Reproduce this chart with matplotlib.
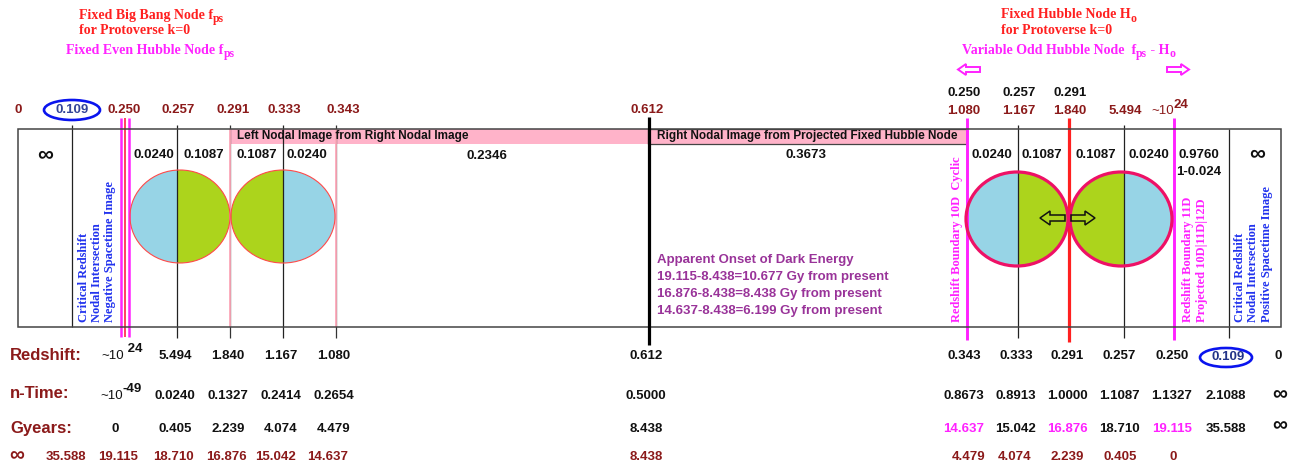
"""
Nodal redshift diagram (protoverse k=0) redrawn with matplotlib.
The axes work in pixel units of the 1293x469 output, y pointing down.
"""

import matplotlib
matplotlib.use("Agg")
import matplotlib.pyplot as plt
from matplotlib.patches import Rectangle, Ellipse, FancyArrow

SANS = ["Liberation Sans", "DejaVu Sans"]
SERIF = ["Liberation Serif", "DejaVu Serif"]
DARKRED, MAGENTA, RED, BLUE, PURPLE = "#8b1a1a", "#ff22ff", "#ff2020", "#2233ee", "#993399"
SKY, LIME, PINK = "#97d4e6", "#acd41c", "#ffb3c9"

# ---- data (labels) ----
TOP_LEFT = ["0", "0.109", "0.250", "0.257", "0.291", "0.333", "0.343", "0.612"]
TOP_RIGHT_Z = ["0.250", "0.257", "0.291"]
TOP_RIGHT = ["1.080", "1.167", "1.840", "5.494"]
CELL_LEFT = ["0.0240", "0.1087", "0.1087", "0.0240"]
CELL_RIGHT = ["0.0240", "0.1087", "0.1087", "0.0240"]
SPAN_LEFT, SPAN_RIGHT = "0.2346", "0.3673"
REDSHIFT = ["5.494", "1.840", "1.167", "1.080", "0.612",
            "0.343", "0.333", "0.291", "0.257", "0.250", "0.109", "0"]
NTIME = ["0.0240", "0.1327", "0.2414", "0.2654", "0.5000",
         "0.8673", "0.8913", "1.0000", "1.1087", "1.1327", "2.1088", "\u221e"]
GYEARS = ["0", "0.405", "2.239", "4.074", "4.479", "8.438",
          "14.637", "15.042", "16.876", "18.710", "19.115", "35.588", "\u221e"]
GYEARS_BACK = ["\u221e", "35.588", "19.115", "18.710", "16.876", "15.042", "14.637",
               "8.438", "4.479", "4.074", "2.239", "0.405", "0"]
DARK_ENERGY = ["Apparent Onset of Dark Energy",
               "19.115-8.438=10.677 Gy from present",
               "16.876-8.438=8.438 Gy from present",
               "14.637-8.438=6.199 Gy from present"]

# ---- layout (pixel positions) ----
COL_X = [120, 177, 230, 283, 336, 648, 966, 1018, 1069, 1121, 1174, 1228, 1280]
BOX = (18, 129, 1281, 327)

fig = plt.figure(figsize=(12.93, 4.69), dpi=100)
ax = fig.add_axes([0, 0, 1, 1])
ax.set_xlim(0, 1293)
ax.set_ylim(469, 0)
ax.axis("off")
R = fig.canvas.get_renderer()


def rich(x, y, parts, ha="left", **kw):
    """Lay out (text, dy, size, weight) pieces side by side; used for sub/superscripts."""
    arts = []
    for s, dy, size, weight in parts:
        t = ax.text(0, y + dy, s, ha="left", va="center", fontsize=size,
                    fontweight=weight, **kw)
        arts.append((t, t.get_window_extent(R).width))
    total = sum(w for _, w in arts)
    x0 = x - total / 2 if ha == "center" else x
    for t, w in arts:
        t.set_x(x0)
        x0 += w


def num(x, y, s, color="#111111", size=9.5, **kw):
    ax.text(x, y, s, ha="center", va="center", fontsize=size, fontweight="bold",
            color=color, family=SANS, **kw)


def vline(x, y0, y1, color, lw, z=3):
    ax.plot([x, x], [y0, y1], color=color, lw=lw, zorder=z, solid_capstyle="butt")


def half_disc(cx, cy, w, h, split, left, right, edge, elw):
    for color, x0, x1 in [(left, cx - w, split), (right, split, cx + w)]:
        e = Ellipse((cx, cy), w, h, facecolor=color, edgecolor="none", zorder=2)
        ax.add_patch(e)
        clip = Rectangle((x0, cy - h), x1 - x0, 2 * h, transform=ax.transData)
        e.set_clip_path(clip)
    ax.add_patch(Ellipse((cx, cy), w, h, facecolor="none", edgecolor=edge, lw=elw, zorder=4))


# ---- frame ----
x0, y0, x1, y1 = BOX
ax.add_patch(Rectangle((x0, y0), x1 - x0, y1 - y0, fill=False, edgecolor="#444444", lw=1.1, zorder=5))
ax.add_patch(Rectangle((230, 129), 418, 15, facecolor=PINK, edgecolor="none", zorder=3))
ax.add_patch(Rectangle((648, 129), 319, 15, facecolor=PINK, edgecolor="#444444", lw=0.9, zorder=3))
ax.text(237, 136.5, "Left Nodal Image from Right Nodal Image", ha="left", va="center",
        fontsize=8.5, fontweight="bold", family=SANS, color="#111111", zorder=6)
ax.text(807, 136.5, "Right Nodal Image from Projected Fixed Hubble Node", ha="center",
        va="center", fontsize=8.5, fontweight="bold", family=SANS, color="#111111", zorder=6)

# ---- circles ----
half_disc(180, 216.5, 100, 93, 177, SKY, LIME, "#ff4a4a", 0.8)
half_disc(283, 216.5, 104, 93, 283, LIME, SKY, "#ff4a4a", 0.8)
half_disc(1017, 219, 102, 94, 1018, SKY, LIME, "#ee1166", 2.3)
half_disc(1121, 219, 102, 94, 1124, LIME, SKY, "#ee1166", 2.3)
for xt, dx in [(1065, -25), (1071, 24)]:
    ax.add_patch(FancyArrow(xt, 218, dx, 0, width=6, head_width=14, head_length=10,
                            length_includes_head=True, fill=False, edgecolor="#111111",
                            lw=1.1, zorder=6))

# ---- vertical node lines ----
vline(72, 125, 327, "#222222", 0.9)
vline(1229, 129, 338, "#222222", 0.9)
for x in (177, 283, 1018, 1124):
    vline(x, 125, 338, "#222222", 0.9)
for x in (230, 336):
    vline(x, 125, 338, "#333333", 0.9)
    vline(x, 129, 327, "#ffaabb", 1.3, z=3.5)
vline(121.3, 118, 337, MAGENTA, 1.8)
vline(124.8, 118, 337, "#ff3355", 1.3)
vline(128.5, 118, 337, MAGENTA, 1.8)
vline(648.5, 117, 345, "#000000", 2.3, z=6)
vline(966.5, 118, 340, MAGENTA, 2.1)
vline(1174, 118, 340, MAGENTA, 2.1)
vline(1069, 118, 342, RED, 2.3)

# ---- labels above the box ----
top_x = [18, 72, 124, 178, 233, 284, 343, 647]
for x, s in zip(top_x, TOP_LEFT):
    num(x, 110, s, color="#334499" if s == "0.109" else DARKRED)
ax.add_patch(Ellipse((72, 110), 56, 20, fill=False, edgecolor="#0a14ee", lw=1.9, zorder=5))
for x, s in zip([964, 1019, 1070], TOP_RIGHT_Z):
    num(x, 93, s)
for x, s in zip([964, 1019, 1070, 1125], TOP_RIGHT):
    num(x, 111, s, color=DARKRED)
rich(1170, 111, [("~10", 0, 9.5, "normal"), ("24", -6, 9.5, "bold")], ha="center",
     color=DARKRED, family=SANS)

kw = dict(family=SERIF)
rich(79, 15, [("Fixed Big Bang Node f", 0, 10, "bold"), ("ps", 4, 8.5, "bold")], color=RED, **kw)
rich(79, 31, [("for Protoverse k=0", 0, 10, "bold")], color=RED, **kw)
rich(66, 50, [("Fixed Even Hubble Node f", 0, 10, "bold"), ("ps", 4, 8.5, "bold")], color=MAGENTA, **kw)
rich(1001, 15, [("Fixed Hubble Node H", 0, 10, "bold"), ("o", 4, 8.5, "bold")], color=RED, **kw)
rich(1001, 31, [("for Protoverse k=0", 0, 10, "bold")], color=RED, **kw)
rich(962, 50, [("Variable Odd Hubble Node  f", 0, 10, "bold"), ("ps", 4, 8.5, "bold"),
               (" - H", 0, 10, "bold"), ("o", 4, 8.5, "bold")], color=MAGENTA, **kw)
for xt, dx in [(980, -22), (1167, 22)]:
    ax.add_patch(FancyArrow(xt, 69.5, dx, 0, width=5, head_width=11, head_length=8,
                            length_includes_head=True, fill=False, edgecolor=MAGENTA, lw=1.4))

# ---- text inside the box ----
ax.text(45, 155, "\u221e", ha="center", va="center", fontsize=16, fontweight="bold",
        family=SANS, color="#111111")
ax.text(1257, 154, "\u221e", ha="center", va="center", fontsize=16, fontweight="bold",
        family=SANS, color="#111111")
for x, s in zip([154, 204, 257, 307], CELL_LEFT):
    num(x, 155, s)
for x, s in zip([992, 1042, 1096, 1149], CELL_RIGHT):
    num(x, 155, s)
num(1199, 155, "0.9760")
num(1199, 172, "1-0.024")
num(487, 156, SPAN_LEFT)
num(806, 155, SPAN_RIGHT)
for i, s in enumerate(DARK_ENERGY):
    ax.text(657, 260 + 17 * i, s, ha="left", va="center", fontsize=9.5, fontweight="bold",
            family=SANS, color=PURPLE)

rot = dict(rotation=90, ha="center", va="bottom", fontsize=9, fontweight="bold", family=SERIF)
for x, s in zip([84, 97.5, 110], ["Critical Redshift", "Nodal Intersection", "Negative Spacetime Image"]):
    ax.text(x, 322, s, color=BLUE, **rot)
for x, s in zip([1240, 1253, 1267], ["Critical Redshift", "Nodal Intersection", "Positive Spacetime Image"]):
    ax.text(x, 322, s, color=BLUE, **rot)
ax.text(957, 322, "Redshift Boundary 10D  Cyclic", color=MAGENTA, **rot)
ax.text(1188.5, 322, "Redshift Boundary 11D", color=MAGENTA, **rot)
ax.text(1202, 322, "Projected 10D|11D|12D", color=MAGENTA, **rot)

# ---- rows below the box ----
for y, s in [(355, "Redshift:"), (393, "n-Time:"), (428, "Gyears:")]:
    ax.text(10, y, s, ha="left", va="center", fontsize=12, fontweight="bold",
            family=SANS, color=DARKRED)

rich(122, 356, [("~10", 0, 9.5, "normal"), (" 24", -7, 9.5, "bold")], ha="center",
     color="#111111", family=SANS)
for x, s in zip(COL_X[1:], REDSHIFT):
    if s == "0.109":
        num(x, 357, s, color="#223388")
    else:
        num(x - 2, 356, s)
ax.add_patch(Ellipse((1226, 357.5), 52, 19, fill=False, edgecolor="#0a14ee", lw=1.9, zorder=5))

rich(121, 396, [("~10", 0, 9.5, "normal"), ("-49", -7, 9.5, "bold")], ha="center",
     color="#111111", family=SANS)
for x, s in zip(COL_X[1:], NTIME):
    if s == "\u221e":
        ax.text(x, 395, s, ha="center", va="center", fontsize=15, fontweight="bold",
                family=SANS, color="#111111")
    else:
        num(x - 2, 396, s)

HIGHLIGHT = {"14.637", "16.876", "19.115"}
for i, (x, s) in enumerate(zip([115] + COL_X[1:], GYEARS)):
    if s == "\u221e":
        ax.text(x, 426, s, ha="center", va="center", fontsize=15, fontweight="bold",
                family=SANS, color="#111111")
    else:
        num(x - 2 if i else x, 429, s, color=MAGENTA if i > 5 and s in HIGHLIGHT else "#111111")

back_x = [17, 66] + [118, 173, 226, 276, 328, 646, 969, 1015, 1067, 1120, 1173]
for x, s in zip(back_x, GYEARS_BACK):
    if s == "\u221e":
        ax.text(x, 456, s, ha="center", va="center", fontsize=15, fontweight="bold",
                family=SANS, color=DARKRED)
    else:
        num(x, 457, s, color=DARKRED)

fig.savefig("out.png", dpi=100)
